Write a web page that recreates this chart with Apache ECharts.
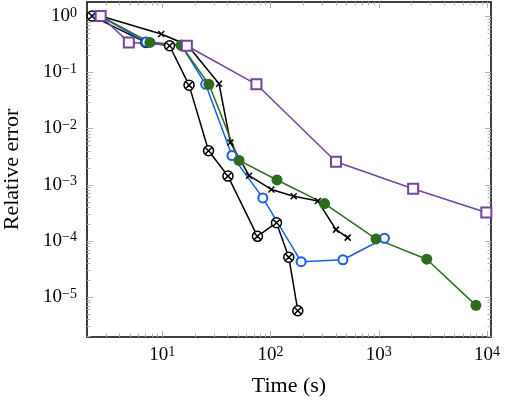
<!DOCTYPE html>
<html>
<head>
<meta charset="utf-8">
<script src="https://cdn.jsdelivr.net/npm/echarts@6/dist/echarts.min.js"></script>
<style>
  html, body { margin: 0; padding: 0; background: #fff; }
  #main { width: 509px; height: 405px; }
</style>
</head>
<body>
<div id="main"></div>
<script>
var myChart = echarts.init(document.getElementById('main'));

// [time (s), relative error]
var otimesData = [[2.25, 1.0], [7.06, 0.34], [11.7, 0.296], [17.7, 0.059], [26.8, 0.0040], [40.5, 0.00142],
    [75.9, 1.2e-4], [113.7, 2.1e-4], [147.7, 5.1e-5], [179, 5.7e-6]];
var crossData = [[2.7, 1.0], [9.8, 0.48], [17.1, 0.305], [33.5, 0.0624], [42.7, 0.0056], [63.5, 0.00144],
    [102, 8.2e-4], [164, 6.2e-4], [274, 5.1e-4], [403, 1.58e-4], [517, 1.14e-4]];
var blueData = [[2.67, 1.0], [7.1, 0.345], [15.0, 0.305], [25.2, 0.061], [44.1, 0.0033], [85, 5.8e-4],
    [192, 4.25e-5], [467, 4.6e-5], [1130, 1.11e-4]];
var greenData = [[2.7, 1.0], [7.7, 0.34], [15.0, 0.30], [27.0, 0.061], [51.3, 0.0027], [115, 0.00121],
    [316, 4.6e-4], [944, 1.08e-4], [2780, 4.7e-5], [7910, 7.1e-6]];
var purpleData = [[2.7, 1.0], [4.92, 0.34], [16.9, 0.296], [74.2, 0.061], [403, 0.00255], [2080, 8.45e-4],
    [9870, 3.2e-4]];

var xRange = [2.02, 10900];
var yRange = [1.94e-6, 1.78];

var serif = '"Liberation Serif", "DejaVu Serif", serif';

function powLabel(v) {
    var e = Math.log10(v);
    var r = Math.round(e);
    if (Math.abs(e - r) > 1e-6) return '';
    return '{b|10}{s|' + (r < 0 ? '\u2212' + (-r) : r) + '}';
}

var labelRich = {
    b: { fontSize: 19, fontFamily: serif, color: '#000', lineHeight: 20 },
    s: { fontSize: 14, fontFamily: serif, color: '#000', verticalAlign: 'top', lineHeight: 13 }
};

var otimesSymbol = 'path://M10,5A5,5,0,1,1,0,5A5,5,0,1,1,10,5ZM1.46,1.46L8.54,8.54M8.54,1.46L1.46,8.54';
var crossSymbol = 'path://M0,0L10,10M10,0L0,10';

option = {
    animation: false,
    backgroundColor: '#fff',
    grid: {
        left: 87,
        right: 18,
        top: 2,
        bottom: 68,
        outerBoundsMode: 'none',
        containLabel: false,
        show: true,
        borderColor: '#000',
        borderWidth: 1.5,
        backgroundColor: 'transparent'
    },
    xAxis: {
        type: 'log',
        logBase: 10,
        min: xRange[0],
        max: xRange[1],
        name: 'Time (s)',
        nameLocation: 'middle',
        nameGap: 38,
        nameTextStyle: { fontFamily: serif, fontSize: 22, color: '#000' },
        axisLine: { show: false },
        axisTick: { show: false },
        splitLine: { show: false },
        axisLabel: { margin: 8, formatter: powLabel, rich: labelRich }
    },
    yAxis: {
        type: 'log',
        logBase: 10,
        min: yRange[0],
        max: yRange[1],
        name: 'Relative error',
        nameLocation: 'middle',
        nameGap: 64,
        nameTextStyle: { fontFamily: serif, fontSize: 22, color: '#000' },
        axisLine: { show: false },
        axisTick: { show: false },
        splitLine: { show: false },
        axisLabel: { margin: 10, formatter: powLabel, rich: labelRich }
    },
    series: [
        {
            type: 'line',
            data: otimesData,
            symbol: otimesSymbol,
            symbolSize: 10,
            showAllSymbol: true,
            lineStyle: { color: '#000', width: 1.5 },
            itemStyle: { color: '#fff', borderColor: '#000', borderWidth: 1.5 }
        },
        {
            type: 'line',
            data: crossData,
            symbol: crossSymbol,
            symbolSize: 6,
            showAllSymbol: true,
            lineStyle: { color: '#000', width: 1.5 },
            itemStyle: { color: '#000', borderColor: '#000', borderWidth: 1.5 }
        },
        {
            type: 'line',
            data: blueData,
            symbol: 'emptyCircle',
            symbolSize: 9,
            showAllSymbol: true,
            lineStyle: { color: '#1560e6', width: 1.5 },
            itemStyle: { color: '#1560e6', borderWidth: 1.6 }
        },
        {
            type: 'line',
            data: greenData,
            symbol: 'circle',
            symbolSize: 11,
            showAllSymbol: true,
            lineStyle: { color: '#2e6b1f', width: 1.5 },
            itemStyle: { color: '#2e6b1f' }
        },
        {
            type: 'line',
            data: purpleData,
            symbol: 'emptyRect',
            symbolSize: 10,
            showAllSymbol: true,
            lineStyle: { color: '#7443a0', width: 1.5 },
            itemStyle: { color: '#7443a0', borderWidth: 1.6 }
        }
    ]
};
myChart.setOption(option);

// ticks on all four sides, pointing inwards, at 1..9 x 10^k
function tickValues(range) {
    var out = [];
    for (var d = Math.floor(Math.log10(range[0])); d <= Math.ceil(Math.log10(range[1])); d++) {
        for (var m = 1; m <= 9; m++) {
            var v = m * Math.pow(10, d);
            if (v > range[0] && v < range[1]) out.push({ v: v, major: m === 1 });
        }
    }
    return out;
}

var x0 = myChart.convertToPixel({ xAxisIndex: 0 }, xRange[0]);
var x1 = myChart.convertToPixel({ xAxisIndex: 0 }, xRange[1]);
var yb = myChart.convertToPixel({ yAxisIndex: 0 }, yRange[0]);
var yt = myChart.convertToPixel({ yAxisIndex: 0 }, yRange[1]);
var tickStyle = { stroke: '#b0b0b0', lineWidth: 1 };
var ticks = [];

tickValues(xRange).forEach(function (t) {
    var px = Math.round(myChart.convertToPixel({ xAxisIndex: 0 }, t.v)) + 0.5;
    var len = t.major ? 6 : 3.5;
    ticks.push({ type: 'line', silent: true, z: 1, shape: { x1: px, y1: yb, x2: px, y2: yb - len }, style: tickStyle });
    ticks.push({ type: 'line', silent: true, z: 1, shape: { x1: px, y1: yt, x2: px, y2: yt + len }, style: tickStyle });
});
tickValues(yRange).forEach(function (t) {
    var py = Math.round(myChart.convertToPixel({ yAxisIndex: 0 }, t.v)) + 0.5;
    var len = t.major ? 6 : 3.5;
    ticks.push({ type: 'line', silent: true, z: 1, shape: { x1: x0, y1: py, x2: x0 + len, y2: py }, style: tickStyle });
    ticks.push({ type: 'line', silent: true, z: 1, shape: { x1: x1, y1: py, x2: x1 - len, y2: py }, style: tickStyle });
});

myChart.setOption({ graphic: ticks });
</script>
</body>
</html>
